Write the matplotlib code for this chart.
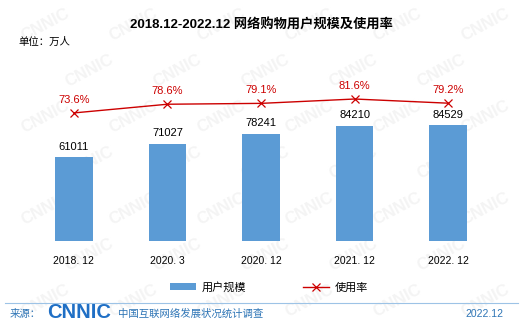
import matplotlib.pyplot as plt
import numpy as np

plt.rcParams['font.family'] = ['Liberation Sans', 'Noto Sans CJK SC', 'DejaVu Sans']

periods = ["2018. 12", "2020. 3", "2020. 12", "2021. 12", "2022. 12"]
users = [61011, 71027, 78241, 84210, 84529]
usage_rate = [73.6, 78.6, 79.1, 81.6, 79.2]

BAR_COLOR = "#5B9BD5"
LINE_COLOR = "#CC0000"
W, H = 521, 326

fig = plt.figure(figsize=(W / 100, H / 100), dpi=100)

# faint CNNIC watermark pattern, kept on a background axes below the chart
bg = fig.add_axes([0, 0, 1, 1], zorder=-1)
bg.set_axis_off()
for row in range(7):
    for col in range(6):
        wx = (col * 88 + (row % 2) * 44 + 45) / W
        wy = 1 - (row * 46 + 25) / H
        if 0.06 < wx < 0.94 and 0.06 < wy < 0.94:
            bg.text(wx, wy, "CNNIC", fontsize=12, fontweight="bold", color="#f4f4f4",
                    rotation=28, ha="center", va="center", transform=bg.transAxes)

ax = fig.add_axes([27 / W, 1 - 241 / H, 468 / W, 174 / H])
ax.patch.set_alpha(0)
x = np.arange(len(periods))
bars = ax.bar(x, users, width=0.4, color=BAR_COLOR, label="用户规模", zorder=2)
ax.set_xlim(-0.5, len(periods) - 0.5)
ax.set_ylim(0, 127000)
ax.set_yticks([])
ax.set_xticks(x)
ax.set_xticklabels(periods, fontsize=7.5)
ax.tick_params(axis="x", length=0, pad=11)
for s in ax.spines.values():
    s.set_visible(False)
for xi, v in zip(x, users):
    ax.annotate(f"{v}", (xi, v), xytext=(0, 4), textcoords="offset points",
                ha="center", va="bottom", fontsize=8, color="black")

ax2 = ax.twinx()
ax2.set_ylim(0, 100)
line, = ax2.plot(x, usage_rate, color=LINE_COLOR, lw=1, marker="x", ms=6,
                 mew=0.9, label="使用率", zorder=3)
ax2.set_yticks([])
for s in ax2.spines.values():
    s.set_visible(False)
for xi, v in zip(x, usage_rate):
    ax2.annotate(f"{v}%", (xi, v), xytext=(0, 6), textcoords="offset points",
                 ha="center", va="bottom", fontsize=8, color=LINE_COLOR)

fig.text(261 / W, 1 - 25 / H, "2018.12-2022.12 网络购物用户规模及使用率",
         ha="center", va="center", fontsize=9.5, fontweight="bold")
fig.text(18 / W, 1 - 42 / H, "单位：万人", ha="left", va="center", fontsize=7.5)

fig.legend([bars, line], ["用户规模", "使用率"], loc="center",
           bbox_to_anchor=(269 / W, 1 - 287 / H), ncol=2, frameon=False,
           fontsize=8, handlelength=2.3, handleheight=0.55, handletextpad=0.5,
           columnspacing=5.2)

# footer
fig.add_artist(plt.Line2D([5 / W, 518 / W], [1 - 303 / H, 1 - 303 / H],
                          color="#9DC3E6", lw=0.8))
fig.text(10 / W, 1 - 314 / H, "来源：", ha="left", va="center", fontsize=7.5, color="#2E75B6")
fig.text(47 / W, 1 - 313 / H, "CNNIC", ha="left", va="center", fontsize=14.5,
         fontweight="bold", color="#1F6FC5")
fig.text(118 / W, 1 - 314 / H, "中国互联网络发展状况统计调查", ha="left", va="center",
         fontsize=7.5, color="#2E75B6")
fig.text(503 / W, 1 - 314 / H, "2022.12", ha="right", va="center", fontsize=7.5,
         color="#2E75B6")

fig.savefig("out.png", dpi=100)
